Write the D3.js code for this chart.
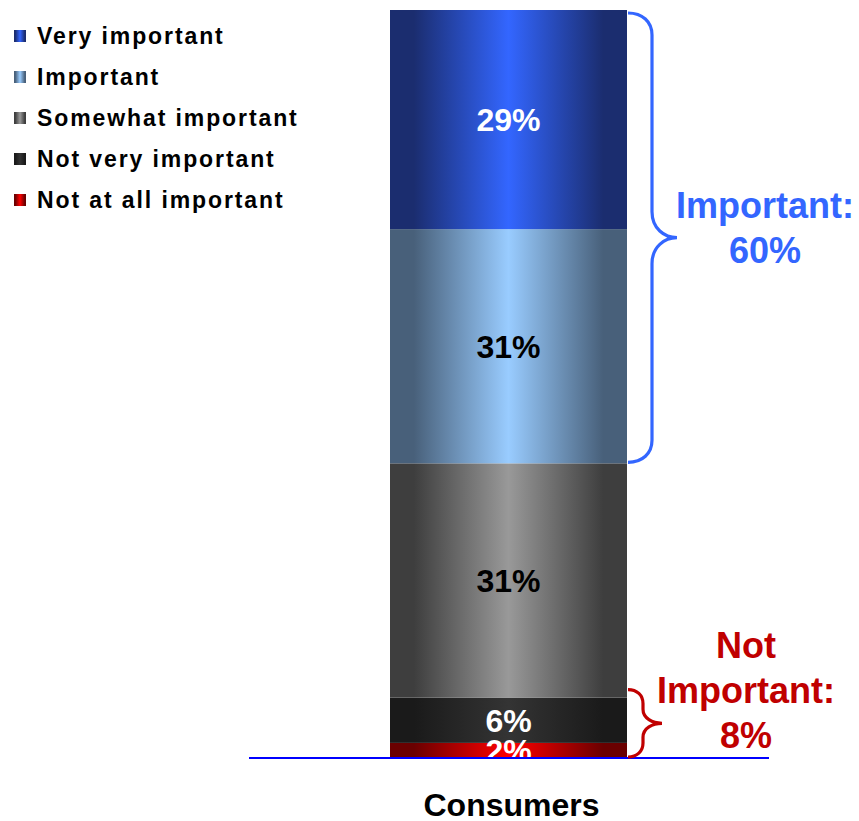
<!DOCTYPE html>
<html>
<head>
<meta charset="utf-8">
<script src="https://cdn.jsdelivr.net/npm/d3@7"></script>
<style>
  html, body { margin: 0; padding: 0; background: #fff; }
  svg { display: block; font-family: "Liberation Sans", Arial, sans-serif; font-weight: bold; }
</style>
</head>
<body>
<svg id="chart" width="859" height="821"></svg>
<script>
// Survey responses for one group, stacked bottom (least) to top (most important)
const categories = ["Consumers"];
const seriesNames = ["Not at all important", "Not very important", "Somewhat important", "Important", "Very important"];
const seriesValues = [2, 6, 31, 31, 29];
const seriesLabels = ["2%", "6%", "31%", "31%", "29%"];
const legendOrder = ["Very important", "Important", "Somewhat important", "Not very important", "Not at all important"];
const groupLabels = [["Important:", "60%"], ["Not", "Important:", "8%"]];
const groupValues = [60, 8];

// Horizontal shading for each series: edge colour, centre colour
const shades = {
  "Very important":       ["#1B2D6F", "#3366FF"],
  "Important":            ["#48607A", "#99CCFF"],
  "Somewhat important":   ["#3E3E3E", "#999999"],
  "Not very important":   ["#1A1A1A", "#343434"],
  "Not at all important": ["#6A0000", "#FF0000"]
};
const labelColors = {
  "Very important": "#fff", "Important": "#000", "Somewhat important": "#000",
  "Not very important": "#fff", "Not at all important": "#fff"
};

const svg = d3.select("#chart");
const defs = svg.append("defs");
seriesNames.forEach((name, i) => {
  const [edge, mid] = shades[name];
  const g = defs.append("linearGradient").attr("id", "grad" + i)
    .attr("x1", "0%").attr("x2", "100%").attr("y1", "0%").attr("y2", "0%");
  [[0, edge], [0.1, edge], [0.5, mid], [0.9, edge], [1, edge]].forEach(([o, c]) =>
    g.append("stop").attr("offset", o).attr("stop-color", c));
});

const total = d3.sum(seriesValues);
const x = d3.scaleBand().domain(categories).range([390, 627]).padding(0);
const y = d3.scaleLinear().domain([0, total]).range([758, 10]);

// Stacked segments
const rows = [Object.fromEntries(seriesNames.map((n, i) => [n, seriesValues[i]]))];
rows[0].category = categories[0];
const stacked = d3.stack().keys(seriesNames)(rows);

const segs = svg.append("g");
stacked.forEach((layer, i) => {
  layer.forEach(d => {
    segs.append("rect")
      .attr("x", x(d.data.category))
      .attr("width", x.bandwidth())
      .attr("y", y(d[1]))
      .attr("height", y(d[0]) - y(d[1]))
      .attr("fill", `url(#grad${i})`);
  });
});

// Segment value labels
stacked.forEach((layer, i) => {
  layer.forEach(d => {
    segs.append("text")
      .attr("x", x(d.data.category) + x.bandwidth() / 2)
      .attr("y", (y(d[0]) + y(d[1])) / 2)
      .attr("dy", "0.36em")
      .attr("text-anchor", "middle")
      .attr("font-size", 32)
      .attr("fill", labelColors[layer.key])
      .text(seriesLabels[i]);
  });
});

// Baseline
svg.append("line")
  .attr("x1", 249).attr("x2", 769)
  .attr("y1", y(0)).attr("y2", y(0))
  .attr("stroke", "#0000FF").attr("stroke-width", 2.2);

// Category label
svg.append("text")
  .attr("x", x(categories[0]) + x.bandwidth() / 2 + 3)
  .attr("y", 816)
  .attr("text-anchor", "middle")
  .attr("font-size", 32)
  .attr("fill", "#000")
  .text(categories[0]);

// Curly brace drawn on the right of the bar
function bracePath(x0, top, bottom, spine, tip, r1, r2) {
  const mid = (top + bottom) / 2;
  return [
    `M${x0},${top}`,
    `C${x0 + (spine - x0) * 0.6},${top} ${spine},${top + r1 * 0.4} ${spine},${top + r1}`,
    `L${spine},${mid - r2}`,
    `C${spine},${mid - r2 * 0.35} ${tip - (tip - spine) * 0.5},${mid} ${tip},${mid}`,
    `C${tip - (tip - spine) * 0.5},${mid} ${spine},${mid + r2 * 0.35} ${spine},${mid + r2}`,
    `L${spine},${bottom - r1}`,
    `C${spine},${bottom - r1 * 0.4} ${x0 + (spine - x0) * 0.6},${bottom} ${x0},${bottom}`
  ].join(" ");
}

const braceX = x.range()[1] + 1;
// Important: top two series
svg.append("path")
  .attr("d", bracePath(braceX, y(total) + 3, y(total - groupValues[0]) - 1, braceX + 24, braceX + 49, 22, 26))
  .attr("fill", "none").attr("stroke", "#3366FF").attr("stroke-width", 3.2);
// Not important: bottom two series
svg.append("path")
  .attr("d", bracePath(braceX, y(groupValues[1]) - 8, y(0) - 1, braceX + 15, braceX + 34, 14, 14))
  .attr("fill", "none").attr("stroke", "#C00000").attr("stroke-width", 3.2);

// Group totals
const gt1 = svg.append("text").attr("text-anchor", "middle").attr("font-size", 36).attr("fill", "#3366FF");
groupLabels[0].forEach((t, i) => gt1.append("tspan").attr("x", 765).attr("y", 218 + i * 45).text(t));
const gt2 = svg.append("text").attr("text-anchor", "middle").attr("font-size", 36).attr("fill", "#C00000");
groupLabels[1].forEach((t, i) => gt2.append("tspan").attr("x", 746).attr("y", 658 + i * 45).text(t));

// Legend
const legend = svg.append("g");
legendOrder.forEach((name, i) => {
  const idx = seriesNames.indexOf(name);
  const base = 44 + i * 41;
  legend.append("rect")
    .attr("x", 14).attr("y", base - 14).attr("width", 12).attr("height", 12)
    .attr("fill", `url(#grad${idx})`);
  legend.append("text")
    .attr("x", 37).attr("y", base)
    .attr("font-size", 23)
    .attr("letter-spacing", 1.9)
    .attr("fill", "#000")
    .text(name);
});
</script>
</body>
</html>
